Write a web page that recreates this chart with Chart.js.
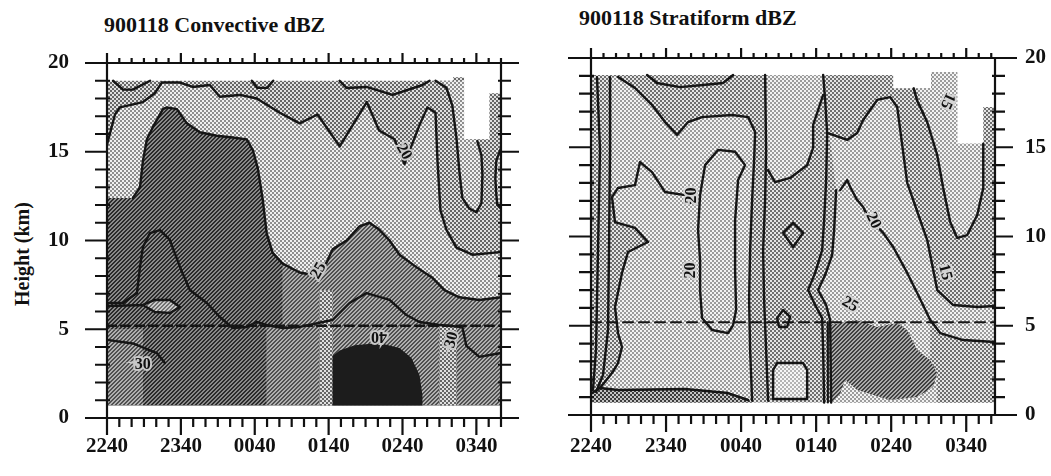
<!DOCTYPE html>
<html>
<head>
<meta charset="utf-8">
<title>900118 dBZ time-height sections</title>
<script src="https://cdn.jsdelivr.net/npm/chart.js@4.4.1/dist/chart.umd.min.js"></script>
<style>
  body { margin: 0; background: #fff; }
  #wrap { position: relative; width: 1051px; height: 476px; overflow: hidden; font-family: "Liberation Serif", "DejaVu Serif", serif; color: #111; }
  canvas { position: absolute; top: 0; }
  .panel-title { position: absolute; font-weight: bold; font-size: 22px; line-height: 22px; white-space: nowrap; }
  .axis-title { position: absolute; font-weight: bold; font-size: 20px; white-space: nowrap; transform: translate(-50%, -50%) rotate(-90deg); }
</style>
</head>
<body>
<div id="wrap">
  <div class="panel-title" style="left:104px; top:14px;">900118 Convective dBZ</div>
  <div class="panel-title" style="left:579px; top:7px;">900118 Stratiform dBZ</div>
  <div class="axis-title" style="left:22px; top:254px;">Height (km)</div>
  <canvas id="convChart" width="520" height="476" style="left:0"></canvas>
  <canvas id="stratChart" width="531" height="476" style="left:520px"></canvas>
</div>
<script>
// x = minutes after 2240 UTC, y = height (km)
const timeLabels = ["2240", "2340", "0040", "0140", "0240", "0340"];
const heightStep = 5;

// ---- convective panel ----
const convDomain = [[0,0.7],[0,19.0],[281,19.0],[281,19.2],[290,19.2],[290,15.7],[310.6,15.7],[310.6,18.3],[320,18.3],[320,0.7]];
const convLight = [[0,15.4],[6.5,17.1],[10.5,17.5],[29.2,17.8],[38.9,18.3],[44.6,18.9],[59.2,18.9],[69.7,18.65],[83.5,18.76],[91.6,18.1],[107.8,18.2],[121.6,18.0],[140.3,17.2],[156.5,16.6],[171,17.1],[189,15.3],[211,17.8],[221,16.2],[233.5,15.7],[241.6,14.3],[253.8,16.5],[260.3,17.5],[266.8,17.2],[268.4,14.5],[270.8,11.7],[275.7,10.6],[283.8,9.6],[296.8,9.2],[313,9.3],[320,9.35],[320,0.7],[0,0.7]];
const convMedium = [[142.7,8.7],[156.5,8.2],[170.3,8.1],[183.2,9.5],[194.6,10.0],[205.1,10.8],[213.2,11.0],[221.3,10.6],[229.5,10.0],[237.6,9.2],[251.3,8.5],[264.3,7.9],[274.1,7.2],[286.2,6.8],[302.4,6.65],[320,6.8],[320,0.7],[129.7,0.7],[129.7,5.1],[142.7,5.1]];
const convLowLeft = [[0,5.0],[29.2,5.0],[29.2,0.7],[0,0.7]];
const convDark = [[0,12.4],[21,12.4],[26.8,13.0],[29.2,14.5],[32.4,15.7],[37.3,16.4],[45.4,17.4],[48.6,17.5],[56.8,17.4],[64.9,16.6],[75.4,16.1],[89.2,15.9],[102.2,15.8],[113.5,15.7],[118.4,15.1],[122.4,14.1],[126.5,12.3],[129.7,10.4],[134.6,9.3],[142.7,8.7],[142.7,5.1],[129.7,5.1],[129.7,0.7],[29.2,0.7],[29.2,5.0],[0,5.0]];
const convStripeA = [[172.7,0.7],[172.7,7.2],[183.2,7.2],[183.2,0.7]];
const convStripeB = [[270,0.7],[270,5.2],[283.8,5.2],[283.8,0.7]];
const convCore = [[183.2,0.7],[183.2,3.5],[188.9,3.8],[201.1,4.1],[221.3,4.23],[237.6,3.94],[247.3,3.38],[253.8,2.42],[256.2,1.3],[256.2,0.7]];
const convLens = [[29.2,6.37],[38.9,6.65],[51.1,6.65],[59.2,6.25],[51.1,5.92],[38.9,5.97],[29.2,6.37]];
const convPocket = [[264.3,19.0],[275.7,18.6],[280.5,17.6],[283.8,15.8],[286.2,13.9],[288.6,12.4],[294.3,11.8],[300,11.6],[304.1,12.1],[304.9,13.7],[304.1,14.8],[300.8,15.7],[290,15.7],[290,19.0]];
const convHook = [[320,15.2],[316.2,14.5],[315.4,13.5],[316.2,12.6],[317,12.0],[320,11.8]];

const conv20 = [[0,15.4],[6.5,17.1],[10.5,17.5],[29.2,17.8],[38.9,18.3],[44.6,18.9],[59.2,18.9],[69.7,18.65],[83.5,18.76],[91.6,18.1],[107.8,18.2],[121.6,18.0],[140.3,17.2],[156.5,16.6],[171,17.1],[189,15.3],[211,17.8],[221,16.2],[233.5,15.7],[241.6,14.3],[253.8,16.5],[260.3,17.5],[266.8,17.2],[268.4,14.5],[270.8,11.7],[275.7,10.6],[283.8,9.6],[296.8,9.2],[313,9.3],[320,9.35]];
const conv25a = [[21,12.4],[26.8,13.0],[29.2,14.5],[32.4,15.7],[37.3,16.4],[45.4,17.4],[48.6,17.5],[56.8,17.4],[64.9,16.6],[75.4,16.1],[89.2,15.9],[102.2,15.8],[113.5,15.7],[118.4,15.1],[122.4,14.1],[126.5,12.3],[129.7,10.4],[134.6,9.3],[142.7,8.7],[156.5,8.2],[164,8.1]];
const conv25b = [[178,8.7],[183.2,9.5],[194.6,10.0],[205.1,10.8],[213.2,11.0],[221.3,10.6],[229.5,10.0],[237.6,9.2],[251.3,8.5],[264.3,7.9],[274.1,7.2],[286.2,6.8],[302.4,6.65],[320,6.8]];
const conv30 = [[0,6.48],[13,6.48],[24.3,7.04],[26.8,8.51],[29.2,9.63],[34.9,10.42],[43,10.59],[51.1,10.03],[59.2,8.51],[67.3,7.21],[81.1,6.48],[91.6,5.69],[102.2,5.07],[113.5,5.13],[121.6,5.41],[129.7,5.24],[142.7,5.07]];
const convLensEdge = [[0,6.3],[29.2,6.37],[38.9,6.65],[51.1,6.65],[59.2,6.25],[51.1,5.92],[38.9,5.97],[29.2,6.37]];
const convHump = [[142.7,5.07],[156.5,5.13],[183.2,5.52],[197,6.48],[210.8,7.04],[229.5,6.65],[243.2,5.8],[253.8,5.41],[270,5.24],[288.6,5.13]];
const convSouthEast = [[288.6,5.13],[291.9,4.06],[302.4,3.44],[320,3.66]];
const convLow30 = [[0,4.4],[21,4.2],[40.5,3.66],[47,3.1]];
const convTop = [[188.9,19.0],[194.6,18.59],[210.8,18.65],[231.9,18.2],[256.2,18.76],[262,19.0]];
const convPocketEdge = [[266.8,19.0],[275.7,18.6],[280.5,17.6],[283.8,15.8],[286.2,13.9],[288.6,12.4],[294.3,11.8],[300,11.6],[304.1,12.1],[304.9,13.7],[304.1,14.8],[300.8,15.6]];
const convArcA = [[4.9,19.0],[13,18.5],[21,18.5],[35,19.0]];
const convArcB = [[117.6,19.0],[122,18.6],[130,18.6],[135,19.0]];
const convMelt = [[0,5.2],[320,5.2]];
const convLabels = [
  { text: "20", x: 241, y: 15.0, rot: 60 },
  { text: "25", x: 172, y: 8.3, rot: -60 },
  { text: "30", x: 29, y: 3.0, rot: 0 },
  { text: "40", x: 221, y: 4.6, rot: 180 },
  { text: "30", x: 280, y: 4.4, rot: -75 },
];

// ---- stratiform panel ----
const stratDomain = [[0,0.7],[0,19.05],[241.6,19.05],[241.6,18.3],[272,18.3],[272,19.2],[292.8,19.2],[292.8,15.2],[313.6,15.2],[313.6,17.25],[323,17.25],[323,0.7]];
const stratBaseBand = [[0,1.23],[7.2,1.51],[21.6,1.4],[75.2,1.46],[109.6,1.23],[125.6,0.84],[128.8,0.7],[0,0.7]];
const stratLightWest = [[16.8,18.93],[21.6,18.93],[35.2,18.32],[48.8,17.37],[59.2,16.41],[68.8,15.69],[77.6,16.41],[88.8,16.69],[112.8,16.81],[125.6,16.69],[131.2,15.85],[130.4,14.29],[128.8,12.04],[127.2,9.24],[126.4,6.44],[127.2,3.64],[128.8,0.95],[125.6,0.84],[109.6,1.23],[75.2,1.46],[21.6,1.4],[7.2,1.51],[16.8,2.35],[21.6,2.91],[24.8,3.81],[21.6,4.59],[19.2,6.05],[24.8,7.96],[29.6,9.13],[45.6,9.69],[35.2,10.48],[19.2,10.81],[16.8,12.21],[16.8,14.85]];
const stratLightMid = [[140.8,19.05],[185.6,19.05],[185.6,17.93],[177.6,16.25],[177.6,14.96],[172.8,14.0],[159.2,13.28],[147.2,13.05],[141.6,13.72],[140,16.53]];
const stratLightEast = [[188.8,15.8],[204.8,15.41],[212.8,15.8],[217.6,16.53],[228.8,17.65],[239.2,17.81],[244.8,17.25],[252.8,13.0],[268.8,9.8],[276.8,7.0],[289.6,6.16],[308.8,6.05],[323,6.11],[323,0.7],[192,0.7],[191.2,5.32],[188,6.16],[181.6,7.0],[187.2,7.84],[192.8,8.96],[194.4,10.36],[196,12.6],[191.2,15.41]];
const stratSouthEast = [[271.2,5.32],[279.2,4.59],[297.6,4.2],[323,4.09],[323,0.7],[276.8,0.7],[276.8,2.35],[271.2,3.08]];
const stratPocket = [[260.8,18.32],[268.8,16.41],[276.8,14.57],[281.6,12.72],[287.2,10.81],[292.8,9.92],[300.8,10.08],[308.8,11.2],[313.6,12.72],[313.6,15.2],[292.8,15.2],[292.8,19.2],[272.8,19.2],[272.8,18.32]];
const stratCore = [[191.2,5.04],[199.2,5.15],[212.8,5.32],[228.8,4.93],[244.8,5.15],[252.8,4.76],[260.8,3.64],[271.2,3.08],[276.8,2.35],[273.6,1.57],[260.8,1.01],[239.2,0.84],[212.8,1.4],[203.2,1.96],[199.2,1.2],[192,0.7]];
const stratBox = [[145.6,2.52],[148.8,2.91],[169.6,2.91],[172.8,2.52],[172.8,0.9],[145.6,0.9]];

const stratEdgeA = [[4.8,18.93],[7.2,14.85],[5.6,9.24],[4,3.64],[1.6,1.4]];
const stratEdgeB = [[15.2,18.93],[15.2,14.85],[14.4,9.24],[13.6,4.76],[9.6,2.24],[4,1.29]];
const stratVee = [[21.6,18.93],[35.2,18.32],[48.8,17.37],[59.2,16.41],[68.8,15.69],[77.6,16.41],[88.8,16.69],[112.8,16.81],[125.6,16.69],[131.2,15.85],[130.4,14.29],[128.8,12.04],[127.2,9.24],[126.4,6.44],[127.2,3.64],[128.8,0.8]];
const stratBase = [[0.8,1.23],[7.2,1.51],[21.6,1.4],[75.2,1.46],[109.6,1.23],[125.6,0.84]];
const stratCap = [[44.8,19.05],[52.8,18.6],[71.2,18.37],[89.6,18.49],[105.6,18.6],[113.6,19.05]];
const stratColumn = [[139.2,19.05],[140,14.85],[139.2,12.04],[137.6,9.24],[138.4,6.44],[140,3.64],[141.6,0.8]];
const stratMidEdge = [[185.6,17.93],[177.6,16.25],[177.6,14.96],[172.8,14.0],[159.2,13.28],[147.2,13.05],[141.6,13.72]];
const stratEastTop = [[185.6,19.05],[187.2,17.65],[188.8,15.8],[204.8,15.41],[212.8,15.8],[217.6,16.53],[228.8,17.65],[239.2,17.81],[244.8,17.25],[252.8,13.0],[268.8,9.8],[276.8,7.0],[289.6,6.16],[308.8,6.05],[323,6.11]];
const strat0140a = [[188.8,15.8],[188,13.16],[186.4,10.92],[184.8,9.24],[179.2,7.96],[173.6,7.0],[179.2,6.16],[184.8,5.43],[185.6,3.64],[186.4,0.7]];
const strat0140b = [[196,12.6],[194.4,10.36],[192.8,8.96],[187.2,7.84],[181.6,7.0],[188,6.16],[191.2,5.32],[192,0.7]];
const strat0140c = [[189.2,5.2],[189.4,0.7]];
const stratEast20a = [[199.2,12.6],[204.8,13.16],[207.2,12.77],[212.8,12.04],[217.6,11.65],[220,11.3]];
const stratEast20b = [[231,10.4],[233.6,10.2],[241.6,9.41],[252.8,7.96],[260.8,6.83],[271.2,5.32],[279.2,4.59],[297.6,4.2],[323,4.09]];
const stratPocketEdge = [[258,18.3],[260.8,17.6],[268.8,16.41],[276.8,14.57],[281.6,12.72],[287.2,10.81],[292.8,9.92],[300.8,10.08],[308.8,11.2],[313.6,12.72],[313.6,15.2]];
const stratDiamond = [[153.6,10.2],[161.6,10.76],[169.6,10.2],[161.6,9.41],[153.6,10.2]];
const stratRing = [[148.8,5.43],[153.6,5.88],[159.2,5.5],[156.8,4.93],[150.4,4.93],[148.8,5.43]];
const stratBoxEdge = [[145.6,2.52],[148.8,2.91],[169.6,2.91],[172.8,2.52],[172.8,0.9],[145.6,0.9],[145.6,2.52]];
const strat20West = [[79.2,11.88],[75.2,12.32],[59.2,12.49],[48.8,13.61],[39.2,14.17],[35.2,12.88],[21.6,12.72],[16.8,12.21],[19.2,10.81],[35.2,10.48],[45.6,9.69],[29.6,9.13],[24.8,7.96],[19.2,6.05],[21.6,4.59],[24.8,3.81],[21.6,2.91],[16.8,2.35],[7.2,1.51]];
const strat20Loop = [[87.2,12.32],[91.2,14.0],[101.6,14.85],[115.2,14.75],[123.2,14.0],[117.6,13.16],[115.2,10.92],[115.2,8.12],[116,5.88],[113.6,5.04],[109.6,4.59],[96.8,4.76],[88.8,5.43],[87.2,7.0],[87.2,8.68],[85.6,10.36],[87.2,12.32]];
const stratMelt = [[0,5.2],[323,5.2]];
const stratLabels = [
  { text: "20", x: 81, y: 12.3, rot: -90 },
  { text: "20", x: 80, y: 8.1, rot: -90 },
  { text: "20", x: 225.6, y: 10.9, rot: 65 },
  { text: "15", x: 283, y: 8.0, rot: 75 },
  { text: "25", x: 207, y: 6.2, rot: 30 },
  { text: "15", x: 285, y: 17.6, rot: 115 },
];

// halftone fills like the printed figure
function dots(bg, fg) {
  const c = document.createElement("canvas");
  c.width = 4; c.height = 4;
  const g = c.getContext("2d");
  g.fillStyle = bg; g.fillRect(0, 0, 4, 4);
  g.fillStyle = fg; g.fillRect(0, 0, 2, 2); g.fillRect(2, 2, 2, 2);
  return g.createPattern(c, "repeat");
}
function hatch(bg, fg) {
  const c = document.createElement("canvas");
  c.width = 4; c.height = 4;
  const g = c.getContext("2d");
  g.fillStyle = bg; g.fillRect(0, 0, 4, 4);
  g.fillStyle = fg;
  for (let i = 0; i < 4; i++) {
    g.fillRect(i, 3 - i, 1, 1);
    g.fillRect((i + 1) % 4, 3 - i, 1, 1);
  }
  return g.createPattern(c, "repeat");
}

const xy = (pts) => pts.map(([x, y]) => ({ x, y }));
const area = (pts, fill) => ({
  data: xy(pts), showLine: true, fill: "shape", backgroundColor: fill,
  borderWidth: 0, borderColor: "rgba(0,0,0,0)", pointRadius: 0,
});
const contour = (pts, width = 2.4, dash = []) => ({
  data: xy(pts), showLine: true, fill: false, borderColor: "#151515",
  borderWidth: width, borderDash: dash, pointRadius: 0,
  borderCapStyle: "round", borderJoinStyle: "round",
});

// frame with inner/outer tick marks, every 10 min and every 1 km
function frameTicks(ext) {
  return {
    id: "frameTicks",
    afterDatasetsDraw(chart) {
      const { ctx, chartArea: a, scales: { x, y } } = chart;
      ctx.save();
      ctx.strokeStyle = "#111";
      ctx.lineWidth = 2.2;
      ctx.beginPath();
      ctx.moveTo(a.left - ext.left, a.top); ctx.lineTo(a.right + ext.right, a.top);
      ctx.moveTo(a.left - ext.left, a.bottom); ctx.lineTo(a.right + ext.right, a.bottom);
      ctx.moveTo(a.left, a.top); ctx.lineTo(a.left, a.bottom);
      ctx.moveTo(a.right, a.top); ctx.lineTo(a.right, a.bottom);
      for (let m = 0; m <= x.max; m += 10) {
        const px = x.getPixelForValue(m);
        const major = m % 60 === 0;
        ctx.moveTo(px, a.bottom); ctx.lineTo(px, a.bottom + (major ? 17 : 9));
        ctx.moveTo(px, a.top); ctx.lineTo(px, a.top - (major ? 10 : 5));
      }
      for (let h = 0; h <= 20; h++) {
        const py = y.getPixelForValue(h);
        const major = h % heightStep === 0;
        ctx.moveTo(a.left - (major ? 22 : 12), py); ctx.lineTo(a.left + (major ? 0 : 3), py);
        ctx.moveTo(a.right - (major ? 0 : 3), py); ctx.lineTo(a.right + (major ? 18 : 10), py);
      }
      ctx.stroke();
      ctx.restore();
    },
  };
}

function contourLabels(items, halo) {
  return {
    id: "contourLabels",
    afterDatasetsDraw(chart) {
      const { ctx, scales: { x, y } } = chart;
      ctx.save();
      ctx.font = "bold 16px 'Liberation Serif', serif";
      ctx.textAlign = "center";
      ctx.textBaseline = "middle";
      items.forEach((it) => {
        ctx.save();
        ctx.translate(x.getPixelForValue(it.x), y.getPixelForValue(it.y));
        ctx.rotate((it.rot * Math.PI) / 180);
        ctx.lineWidth = 4;
        ctx.strokeStyle = halo;
        ctx.strokeText(it.text, 0, 0);
        ctx.fillStyle = "#111";
        ctx.fillText(it.text, 0, 0);
        ctx.restore();
      });
      ctx.restore();
    },
  };
}

const tickFont = { family: "'Liberation Serif', serif", size: 21, weight: "bold" };

function makeChart(canvasId, cfg) {
  const datasets = cfg.layers.map((d, i, all) => ({ ...d, order: all.length - i }));
  return new Chart(document.getElementById(canvasId), {
    type: "scatter",
    data: { datasets },
    options: {
      responsive: false,
      animation: false,
      events: [],
      layout: { padding: cfg.padding },
      plugins: { legend: { display: false }, tooltip: { enabled: false } },
      scales: {
        x: {
          type: "linear", min: 0, max: cfg.xMax,
          grid: { display: false }, border: { display: false },
          ticks: {
            stepSize: 60, includeBounds: false, autoSkip: false, maxRotation: 0,
            padding: cfg.xPad, color: "#111", font: tickFont,
            callback: (v) => timeLabels[v / 60] ?? "",
          },
          afterFit: (s) => { s.height = 40; },
        },
        y: {
          type: "linear", position: cfg.yPos, min: 0, max: 20,
          grid: { display: false }, border: { display: false },
          ticks: { stepSize: heightStep, padding: cfg.yPad, color: "#111", font: tickFont },
          afterFit: (s) => { s.width = cfg.yWidth; },
        },
      },
    },
    plugins: [frameTicks(cfg.ext), contourLabels(cfg.labels, cfg.halo)],
  });
}

// convective shading
const cMid = dots("#e0e0e0", "#666666");
const cLight = dots("#f0f0f0", "#8e8e8e");
const cMedium = hatch("#b0b0b0", "#505050");
const cDark = hatch("#8a8a8a", "#2a2a2a");
const cLens = hatch("#cacaca", "#707070");

makeChart("convChart", {
  padding: { left: 0, right: 19, top: 63, bottom: 18 },
  xMax: 320, xPad: 8, yPos: "left", yPad: 30, yWidth: 107,
  ext: { left: 22, right: 14 },
  halo: "#c8c8c8",
  labels: convLabels,
  layers: [
    area(convDomain, cMid),
    area(convLight, cLight),
    area(convMedium, cMedium),
    area(convLowLeft, cMedium),
    area(convDark, cDark),
    area(convStripeA, cMid),
    area(convStripeB, cMid),
    area(convCore, "#1c1c1c"),
    area(convLens, cLens),
    area(convPocket, cLight),
    area(convHook, cLight),
    contour(conv20),
    contour(conv25a),
    contour(conv25b),
    contour(conv30),
    contour(convLensEdge),
    contour(convHump),
    contour(convSouthEast),
    contour(convLow30),
    contour(convTop),
    contour(convPocketEdge),
    contour(convHook),
    contour(convArcA),
    contour(convArcB),
    contour(convMelt, 2.4, [9, 5]),
  ],
});

// stratiform shading
const sMid = dots("#e4e4e4", "#6e6e6e");
const sLight = dots("#f3f3f3", "#9c9c9c");
const sBase = dots("#c4c4c4", "#3c3c3c");
const sCore = hatch("#aaaaaa", "#404040");
const sBox = dots("#f7f7f7", "#b4b4b4");

makeChart("stratChart", {
  padding: { left: 71, right: 0, top: 58, bottom: 21 },
  xMax: 323, xPad: 11, yPos: "right", yPad: 22, yWidth: 56,
  ext: { left: 23, right: 22 },
  halo: "#d4d4d4",
  labels: stratLabels,
  layers: [
    area(stratDomain, sMid),
    area(stratBaseBand, sBase),
    area(stratLightWest, sLight),
    area(stratLightMid, sLight),
    area(stratLightEast, sLight),
    area(stratSouthEast, sMid),
    area(stratPocket, sLight),
    area(stratCore, sCore),
    area(stratBox, sBox),
    contour(stratEdgeA),
    contour(stratEdgeB),
    contour(stratVee),
    contour(stratBase),
    contour(stratCap),
    contour(stratColumn),
    contour(stratMidEdge),
    contour(stratEastTop),
    contour(strat0140a),
    contour(strat0140b),
    contour(strat0140c, 2),
    contour(stratEast20a),
    contour(stratEast20b),
    contour(stratPocketEdge),
    contour(stratDiamond),
    contour(stratRing),
    contour(stratBoxEdge),
    contour(strat20West),
    contour(strat20Loop),
    contour(stratMelt, 2, [10, 6]),
  ],
});
</script>
</body>
</html>
